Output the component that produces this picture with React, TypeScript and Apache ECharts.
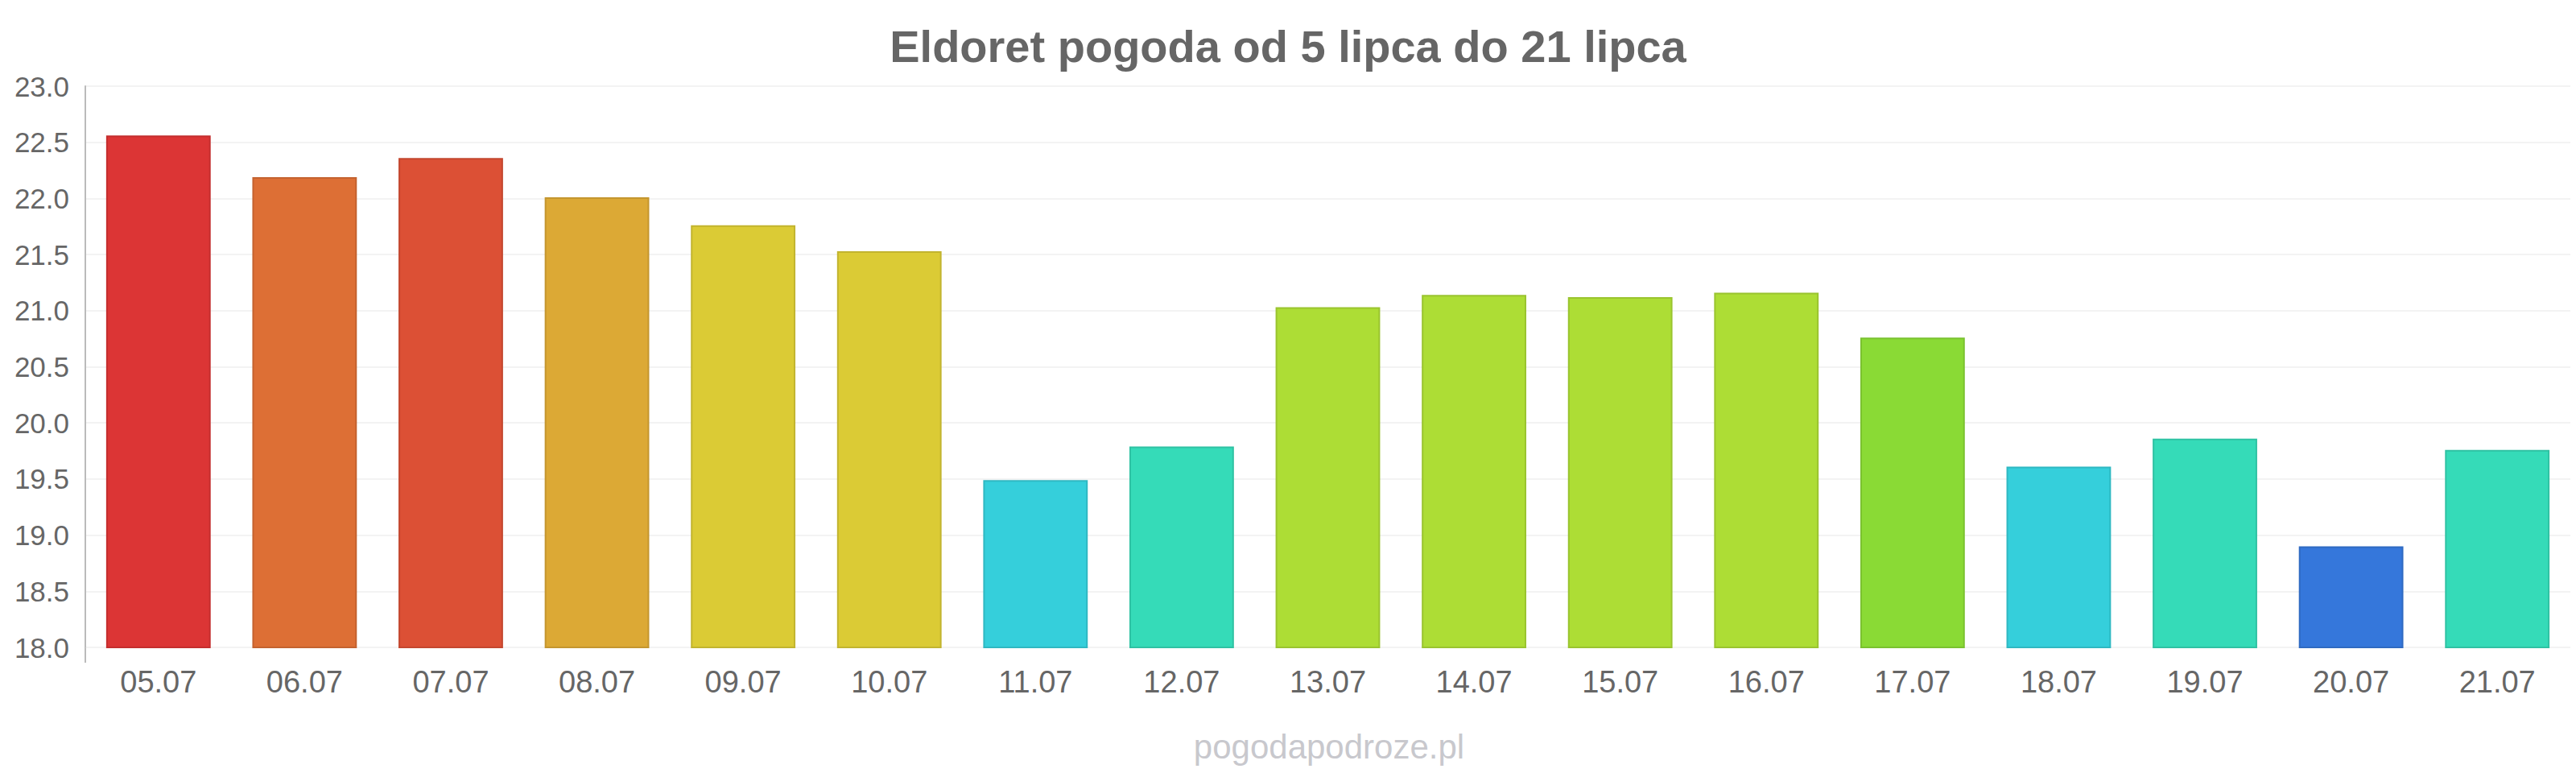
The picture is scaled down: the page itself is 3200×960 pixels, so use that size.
import React, { useEffect, useRef } from "react";
import * as echarts from "echarts";

const titleText = "Eldoret pogoda od 5 lipca do 21 lipca";
const watermark = "pogodapodroze.pl";
const categories = ["05.07", "06.07", "07.07", "08.07", "09.07", "10.07", "11.07", "12.07", "13.07", "14.07", "15.07", "16.07", "17.07", "18.07", "19.07", "20.07", "21.07"];
const temps = [22.56, 22.19, 22.36, 22.01, 21.76, 21.53, 19.49, 19.79, 21.03, 21.14, 21.12, 21.16, 20.76, 19.61, 19.86, 18.9, 19.76];
const yMin = 18;
const yMax = 23;
const yStep = 0.5;

const barFills = ["#dc3535", "#dd6f35", "#dc5035", "#dca935", "#dbcb35", "#dbcb35", "#35cfdb", "#35dbb8", "#addd35", "#addd35", "#addd35", "#addd35", "#8ada35", "#35cfdb", "#35dbb8", "#3577db", "#35dbb8"];
const barBorders = ["#c42e2e", "#c4622f", "#c4472f", "#c4962f", "#c2b42f", "#c2b42f", "#2fb8c2", "#2fc2a3", "#9ac42f", "#9ac42f", "#9ac42f", "#9ac42f", "#7ac22f", "#2fb8c2", "#2fc2a3", "#2f6ac2", "#2fc2a3"];

export default function App() {
  const ref = useRef<HTMLDivElement>(null);
  useEffect(() => {
    document.body.style.margin = "0";
    const chart = echarts.init(ref.current!, null, { renderer: "svg" });
    chart.setOption({
      animation: false,
      backgroundColor: "#ffffff",
      title: {
        text: titleText,
        left: "center",
        top: 24,
        textStyle: { fontFamily: "Liberation Sans, Arial, sans-serif", fontSize: 56, fontWeight: "bold", color: "#666666" },
      },
      grid: { left: 106, right: 7, top: 107, bottom: 156, containLabel: false },
      xAxis: {
        type: "category",
        data: categories,
        axisLine: { show: false },
        axisTick: { show: false },
        axisLabel: { fontFamily: "Liberation Sans, Arial, sans-serif", fontSize: 38, color: "#666666", margin: 24 },
        splitLine: { show: false },
      },
      yAxis: {
        type: "value",
        min: yMin,
        max: yMax,
        interval: yStep,
        axisLine: { show: true, lineStyle: { color: "#bbbbbb", width: 2 } },
        axisTick: { show: false },
        axisLabel: {
          fontFamily: "Liberation Sans, Arial, sans-serif",
          fontSize: 35,
          color: "#666666",
          margin: 20,
          formatter: (v: number) => v.toFixed(1),
        },
        splitLine: { show: true, lineStyle: { color: "#f3f3f3", width: 2 } },
      },
      series: [
        {
          type: "bar",
          barWidth: "71.5%",
          data: temps.map((v, i) => ({
            value: v,
            itemStyle: { color: barFills[i], borderColor: barBorders[i], borderWidth: 2 },
          })),
        },
      ],
      graphic: [
        {
          type: "line",
          shape: { x1: 106, y1: 804, x2: 106, y2: 823 },
          style: { stroke: "#bbbbbb", lineWidth: 2 },
        },
        {
          type: "text",
          x: 1651,
          y: 927,
          style: {
            text: watermark,
            fontFamily: "Liberation Sans, Arial, sans-serif",
            fontSize: 42,
            fill: "#c8c8cd",
            textAlign: "center",
            textVerticalAlign: "middle",
          },
        },
      ],
    });
    return () => chart.dispose();
  }, []);
  return <div ref={ref} style={{ width: 3200, height: 960 }} />;
}
